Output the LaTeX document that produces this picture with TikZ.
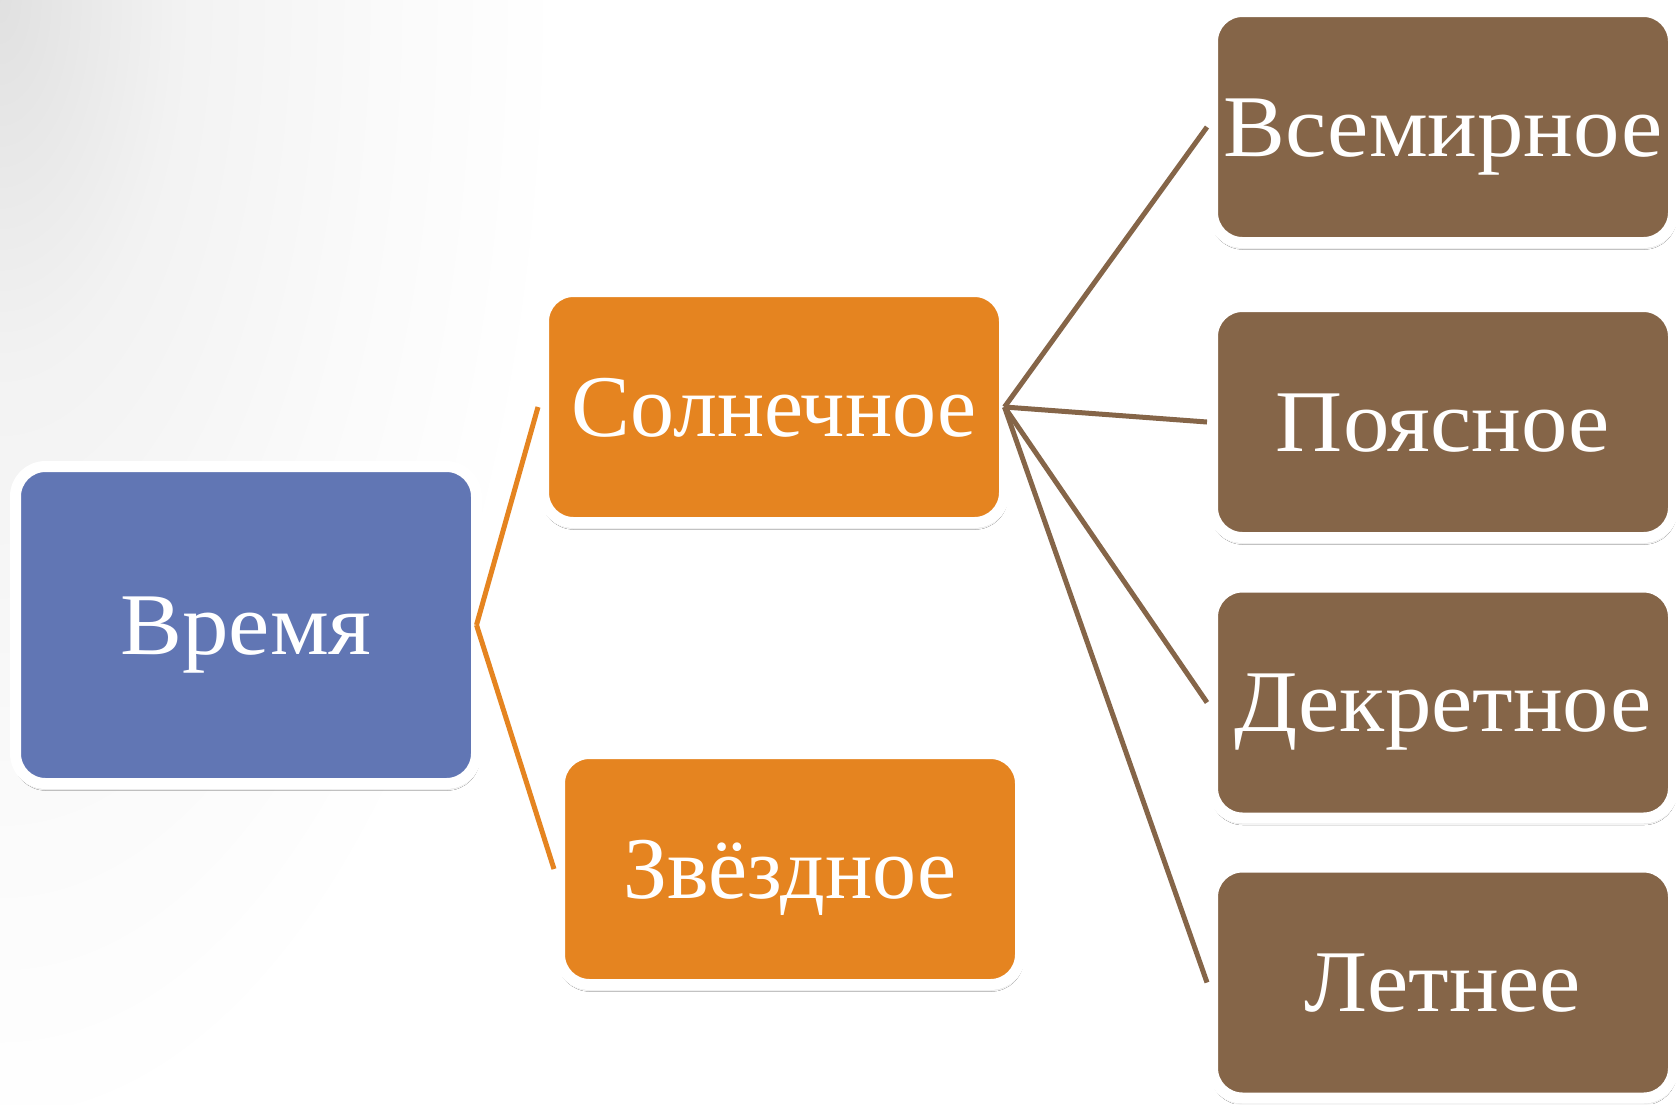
\documentclass[tikz,border=0pt]{standalone}
\usepackage{fontspec}
\setmainfont{Liberation Serif}
\newfontfamily\widefont[FakeStretch=1.055]{Liberation Serif}
\usetikzlibrary{shadows.blur}
\definecolor{boxblue}{HTML}{6176B4}
\definecolor{boxorange}{HTML}{E58420}
\definecolor{boxbrown}{HTML}{856548}
\pgfdeclareradialshading{cornershade}{\pgfpoint{0bp}{0bp}}{color(0bp)=(black!12); color(8bp)=(black!5); color(17bp)=(black!2); color(25bp)=(white); color(50bp)=(white)}
\begin{document}
\begin{tikzpicture}[x=1pt,y=-1pt,
  box/.style={draw=white, line width=11pt, rounded corners=30pt,
    minimum width=461pt, minimum height=231pt, inner sep=0pt, outer sep=0pt,
    text=white, font=\widefont\fontsize{88}{100}\selectfont, text height=58pt, text depth=0pt,
    blur shadow={shadow xshift=0.5pt, shadow yshift=-4pt, shadow blur radius=3pt, shadow opacity=50}},
  narrowtext/.style={font=\rmfamily\fontsize{88}{100}\selectfont},
  conn/.style={line width=5pt}]
\useasboundingbox (0,0) rectangle (1678,1104);
\fill[white] (0,0) rectangle (1678,1104);
\begin{scope}
\clip (0,0) rectangle (1678,1104);
\shade[shading=cornershade] (0,0) ellipse[x radius=560pt, y radius=1150pt];
\end{scope}
\node[box, fill=boxblue, minimum height=317pt] (vremya) at (246,625) {Время};
\node[box, narrowtext, fill=boxorange] (soln) at (774,407) {Солнечное};
\node[box, narrowtext, fill=boxorange] (zvezd) at (790,869) {Звёздное};
\node[box, fill=boxbrown] (vsem) at (1443,127) {Всемирное};
\node[box, fill=boxbrown] (poyas) at (1443,422) {Поясное};
\node[box, fill=boxbrown] (dekr) at (1443,702.5) {Декретное};
\node[box, fill=boxbrown] (letn) at (1443,982.5) {Летнее};
\draw[conn, boxorange] (vremya.east) -- ([xshift=-5.5pt]soln.west);
\draw[conn, boxorange] (vremya.east) -- ([xshift=-5.5pt]zvezd.west);
\draw[conn, boxbrown] (soln.east) -- ([xshift=-5.5pt]vsem.west);
\draw[conn, boxbrown] (soln.east) -- ([xshift=-5.5pt]poyas.west);
\draw[conn, boxbrown] (soln.east) -- ([xshift=-5.5pt]dekr.west);
\draw[conn, boxbrown] (soln.east) -- ([xshift=-5.5pt]letn.west);
\end{tikzpicture}
\end{document}
